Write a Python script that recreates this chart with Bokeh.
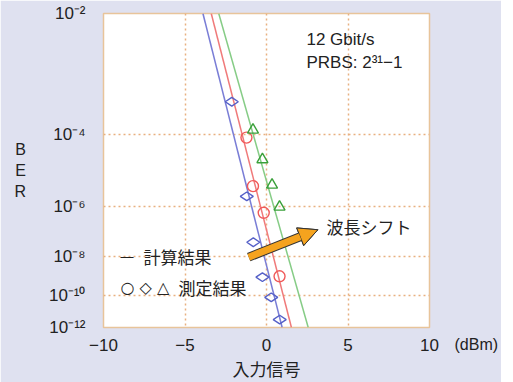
import math
from bokeh.plotting import figure
from bokeh.models import (Range1d, FixedTicker, CustomJSTickFormatter, LinearAxis,
                          Arrow, NormalHead)
from bokeh.core.properties import value
from bokeh.embed import file_html
from bokeh.resources import INLINE

# ---------------- data ----------------
x_ticks = [-10, -5, 0, 5, 10]
x_tick_labels = ["−10", "−5", "0", "5", "10"]
x_unit_label = "(dBm)"
ber_tick_exp = [2, 4, 6, 8, 10, 12]          # BER = 10^-n
ber_tick_labels = ["10⁻²", "10⁻⁴", "10⁻⁶", "10⁻⁸", "10⁻¹⁰", "10⁻¹²"]

calc_ber = [1e-2, 1e-12]
calc_blue_power = [-3.90, 0.96]
calc_red_power = [-3.39, 1.53]
calc_green_power = [-2.93, 2.56]

meas_diamond_power = [-2.13, -1.21, -0.81, -0.25, 0.29, 0.81]
meas_diamond_ber = [4.9e-4, 2.1e-6, 4.2e-8, 9.9e-10, 7.9e-11, 3.4e-12]
meas_circle_power = [-1.23, -0.83, -0.17, 0.80]
meas_circle_ber = [8.7e-5, 4.4e-6, 5.8e-7, 1.1e-9]
meas_triangle_power = [-0.83, -0.25, 0.34, 0.80]
meas_triangle_ber = [1.3e-4, 2.5e-5, 4.8e-6, 9.3e-7]

arrow_power = [-1.09, 3.15]
arrow_ber = [9.3e-9, 1.35e-7]


def q(ber):
    # BER axis: log(-log(BER)) scale
    return math.log10(-math.log10(ber))


def qs(bers):
    return [q(b) for b in bers]


BG = "#dfe1f0"
LATIN = value("Liberation Sans")
CJK = value("Noto Sans CJK JP")
SYM = value("DejaVu Sans")
INK = "#222222"

p = figure(frame_width=326, frame_height=314,
           x_range=Range1d(-10, 10),
           y_range=Range1d(math.log10(12), math.log10(2)),
           output_backend="svg", toolbar_location=None,
           min_border_left=103, min_border_right=68,
           min_border_top=13, min_border_bottom=50)

p.background_fill_color = "white"
p.border_fill_color = BG
p.outline_line_color = "#e8c49a"
p.outline_line_width = 1.5

# axes
p.xaxis.ticker = FixedTicker(ticks=x_ticks)
p.xaxis.formatter = CustomJSTickFormatter(
    args=dict(xt=x_ticks, xl=x_tick_labels),
    code="const i = xt.indexOf(Math.round(tick)); return i >= 0 ? xl[i] : '';")
p.yaxis.ticker = FixedTicker(ticks=[math.log10(n) for n in ber_tick_exp])
p.yaxis.formatter = CustomJSTickFormatter(
    args=dict(ns=ber_tick_exp, yl=ber_tick_labels),
    code="const n = Math.round(Math.pow(10, tick)); const i = ns.indexOf(n); return i >= 0 ? yl[i] : '';")

for ax in (p.xaxis, p.yaxis):
    ax.axis_line_color = None
    ax.major_tick_line_color = None
    ax.minor_tick_line_color = None
    ax.major_label_text_font = "Liberation Sans"
    ax.major_label_text_font_size = "17px"
    ax.major_label_text_color = INK
    ax.axis_label_text_font_style = "normal"
    ax.axis_label_text_color = INK

p.xaxis.major_label_standoff = 5
p.yaxis.major_label_standoff = 12

p.xaxis.axis_label = "入力信号"
p.xaxis.axis_label_text_font = "Noto Sans CJK JP"
p.xaxis.axis_label_text_font_size = "17px"
p.xaxis.axis_label_standoff = 2

p.yaxis.axis_label = "B\nE\nR"
p.yaxis.axis_label_orientation = "horizontal"
p.yaxis.axis_label_text_font = "Liberation Sans"
p.yaxis.axis_label_text_font_size = "16px"
p.yaxis.axis_label_text_line_height = 1.25
p.yaxis.axis_label_standoff = 20

p.grid.grid_line_color = "#e8b080"
p.grid.grid_line_dash = "2 3"
p.grid.grid_line_width = 1.5

# unit label "(dBm)" placed as a tick label of a bare axis on the right
unit_axis = LinearAxis(ticker=FixedTicker(ticks=[math.log10(12)]),
                       formatter=CustomJSTickFormatter(args=dict(u=x_unit_label),
                                                       code="return '\\n' + u;"))
unit_axis.axis_line_color = None
unit_axis.major_tick_line_color = None
unit_axis.minor_tick_line_color = None
unit_axis.major_tick_out = 0
unit_axis.major_tick_in = 0
unit_axis.minor_tick_out = 0
unit_axis.axis_label_standoff = 0
unit_axis.major_label_standoff = 25
unit_axis.major_label_text_font = "Liberation Sans"
unit_axis.major_label_text_font_size = "16px"
unit_axis.major_label_text_color = INK
unit_axis.major_label_text_line_height = 2.0
p.add_layout(unit_axis, "right")

# calculated lines
p.line(calc_blue_power, qs(calc_ber), line_color="#7a7ed6", line_width=1.5)
p.line(calc_red_power, qs(calc_ber), line_color="#f07a7a", line_width=1.5)
p.line(calc_green_power, qs(calc_ber), line_color="#86cc86", line_width=1.5)

# measured markers
p.scatter(meas_diamond_power, qs(meas_diamond_ber), marker="diamond", size=13,
          angle=math.pi / 2, fill_color="white", fill_alpha=0.0,
          line_color="#5560c8", line_width=1.4)
p.scatter(meas_circle_power, qs(meas_circle_ber), marker="circle", size=11,
          fill_color="white", fill_alpha=0.0, line_color="#f05a5a", line_width=1.4)
p.scatter(meas_triangle_power, qs(meas_triangle_ber), marker="triangle", size=11,
          fill_color="white", fill_alpha=0.0, line_color="#3aa03a", line_width=1.4)

# texts inside
p.text(x=[2.45], y=[0.365], text=["12 Gbit/s"], text_font=LATIN,
       text_font_size="17px", text_baseline="middle", text_color=INK)
p.text(x=[2.45], y=[0.422], text=["PRBS: 2³¹−1"], text_font=LATIN,
       text_font_size="17px", text_baseline="middle", text_color=INK)
p.text(x=[-8.96], y=[0.903], text=["—"], text_font=LATIN,
       text_font_size="13px", text_baseline="middle", text_color=INK)
p.text(x=[-7.55], y=[0.903], text=["計算結果"], text_font=CJK,
       text_font_size="17px", text_baseline="middle", text_color=INK)
p.text(x=[-8.96], y=[0.980], text=["○ ◇ △"], text_font=SYM,
       text_font_size="16px", text_baseline="middle", text_color=INK)
p.text(x=[-5.40], y=[0.980], text=["測定結果"], text_font=CJK,
       text_font_size="17px", text_baseline="middle", text_color=INK)
p.text(x=[3.68], y=[0.829], text=["波長シフト"], text_font=CJK,
       text_font_size="17px", text_baseline="middle", text_color=INK)

# arrow (wavelength shift)
p.add_layout(Arrow(x_start=arrow_power[0], y_start=q(arrow_ber[0]),
                   x_end=arrow_power[1], y_end=q(arrow_ber[1]),
                   line_color="#333333", line_width=9,
                   end=NormalHead(size=19, fill_color="#333333", line_color="#333333",
                                  line_width=1)))
p.add_layout(Arrow(x_start=arrow_power[0], y_start=q(arrow_ber[0]),
                   x_end=arrow_power[1], y_end=q(arrow_ber[1]),
                   line_color="#f5a31e", line_width=7,
                   end=NormalHead(size=19, fill_color="#f5a31e", line_color="#333333",
                                  line_width=1)))

html = file_html(p, INLINE)
html = html.replace("<body>", '<body style="background-color:%s;">' % BG, 1)
open("out.html", "w").write(html)
